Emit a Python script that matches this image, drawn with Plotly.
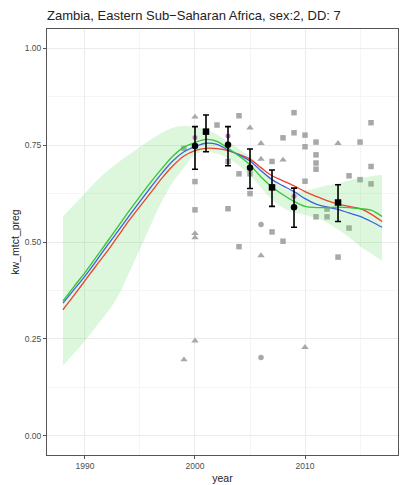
import plotly.graph_objects as go

# ---------------- data ----------------
years = list(range(1988, 2018))
red_line = [0.325, 0.362, 0.400, 0.438, 0.475, 0.515, 0.555, 0.592, 0.628, 0.665,
            0.697, 0.722, 0.736, 0.742, 0.741, 0.736, 0.726, 0.714, 0.692, 0.671,
            0.658, 0.645, 0.630, 0.618, 0.607, 0.598, 0.592, 0.586, 0.572, 0.553]
blue_line = [0.342, 0.377, 0.412, 0.450, 0.490, 0.528, 0.567, 0.605, 0.642, 0.678,
             0.710, 0.733, 0.746, 0.755, 0.752, 0.738, 0.725, 0.709, 0.684, 0.661,
             0.645, 0.630, 0.612, 0.598, 0.590, 0.584, 0.575, 0.566, 0.553, 0.538]
green_line = [0.348, 0.385, 0.421, 0.460, 0.500, 0.540, 0.580, 0.618, 0.655, 0.690,
              0.722, 0.745, 0.757, 0.765, 0.760, 0.742, 0.722, 0.699, 0.668, 0.642,
              0.622, 0.605, 0.592, 0.589, 0.589, 0.590, 0.589, 0.586, 0.582, 0.566]
band_upper = [0.566, 0.596, 0.626, 0.656, 0.683, 0.705, 0.725, 0.745, 0.765, 0.782,
              0.795, 0.800, 0.796, 0.790, 0.777, 0.760, 0.740, 0.720, 0.690, 0.662,
              0.640, 0.630, 0.633, 0.639, 0.646, 0.652, 0.659, 0.665, 0.670, 0.673]
band_lower = [0.181, 0.212, 0.245, 0.281, 0.317, 0.360, 0.420, 0.481, 0.545, 0.605,
              0.655, 0.692, 0.725, 0.733, 0.728, 0.717, 0.697, 0.673, 0.640, 0.609,
              0.588, 0.576, 0.570, 0.562, 0.550, 0.532, 0.512, 0.489, 0.470, 0.451]

sq_years = [2004, 2002, 1999, 2003, 2004, 2000, 2005, 2005, 2008, 2009, 2009, 2007,
            2000, 2003, 2007, 2004, 2008, 2010, 2010, 2011, 2011, 2011, 2011, 2010,
            2015, 2016, 2014, 2015, 2016, 2016, 2011, 2012, 2012, 2014, 2013]
sq_vals = [0.826, 0.802, 0.742, 0.708, 0.676, 0.656, 0.676, 0.625, 0.769, 0.834, 0.782, 0.708,
           0.583, 0.586, 0.526, 0.488, 0.502, 0.776, 0.746, 0.758, 0.725, 0.704, 0.688, 0.657,
           0.758, 0.808, 0.671, 0.661, 0.695, 0.650, 0.565, 0.565, 0.585, 0.536, 0.461]
tri_years = [2000, 2005, 2006, 2008, 2006, 2013, 2000, 2000, 2006, 2000, 1999, 2010]
tri_vals = [0.823, 0.795, 0.755, 0.712, 0.714, 0.755, 0.522, 0.511, 0.465, 0.245, 0.196, 0.228]
circ_years = [2006, 2006]
circ_vals = [0.545, 0.202]
purple_years = [2000, 2003, 2009]
purple_vals = [0.770, 0.774, 0.618]

pt_years = [2000, 2001, 2003, 2005, 2007, 2009, 2013]
pt_vals = [0.748, 0.785, 0.751, 0.692, 0.641, 0.590, 0.602]
pt_upper = [0.798, 0.828, 0.798, 0.740, 0.686, 0.639, 0.648]
pt_lower = [0.688, 0.733, 0.697, 0.638, 0.592, 0.538, 0.553]
pt_symbols = ["circle", "square", "circle", "circle", "square", "circle", "square"]

title_text = "Zambia, Eastern Sub\u2212Saharan Africa, sex:2, DD: 7"

# ---------------- figure ----------------
gray = "rgb(168,168,168)"
fig = go.Figure()

fig.add_trace(go.Scatter(x=sq_years, y=sq_vals, mode="markers",
                         marker=dict(symbol="square", size=5.5, color=gray), showlegend=False))
fig.add_trace(go.Scatter(x=tri_years, y=tri_vals, mode="markers",
                         marker=dict(symbol="triangle-up", size=6.5, color=gray), showlegend=False))
fig.add_trace(go.Scatter(x=circ_years, y=circ_vals, mode="markers",
                         marker=dict(symbol="circle", size=5.5, color=gray), showlegend=False))

# ribbon
fig.add_trace(go.Scatter(x=years, y=band_lower, mode="lines", line=dict(width=0, shape="spline"),
                         showlegend=False, hoverinfo="skip"))
fig.add_trace(go.Scatter(x=years, y=band_upper, mode="lines", line=dict(width=0, shape="spline"),
                         fill="tonexty", fillcolor="rgba(100,220,100,0.22)",
                         showlegend=False, hoverinfo="skip"))

fig.add_trace(go.Scatter(x=purple_years, y=purple_vals, mode="markers",
                         marker=dict(symbol="circle", size=5, color="rgb(190,120,190)"),
                         showlegend=False))

for vals, col in [(red_line, "#EE4033"), (blue_line, "#3D63E0"), (green_line, "#35C435")]:
    fig.add_trace(go.Scatter(x=years, y=vals, mode="lines",
                             line=dict(color=col, width=1.3, shape="spline"), showlegend=False))

fig.add_trace(go.Scatter(
    x=pt_years, y=pt_vals, mode="markers",
    marker=dict(symbol=pt_symbols, size=6.5, color="black"),
    error_y=dict(type="data", symmetric=False,
                 array=[u - v for u, v in zip(pt_upper, pt_vals)],
                 arrayminus=[v - l for v, l in zip(pt_vals, pt_lower)],
                 color="black", thickness=1.6, width=3),
    showlegend=False))

axis_common = dict(
    showline=True, linecolor="#555555", linewidth=1, mirror=True,
    showgrid=True, gridcolor="#EBEBEB", gridwidth=1, zeroline=False,
    ticks="outside", ticklen=3, tickcolor="#555555",
    tickfont=dict(family="Liberation Sans, Arial", size=8.5, color="#4D4D4D"),
)

fig.update_layout(
    width=400, height=485,
    margin=dict(l=47, r=2, t=29, b=30),
    paper_bgcolor="white", plot_bgcolor="white",
    title=dict(text=title_text, x=0, xref="paper", xanchor="left",
               y=1 - 15 / 485, yref="container", yanchor="middle",
               font=dict(family="Liberation Sans, Arial", size=13, color="#222222")),
    xaxis=dict(range=[1986.55, 2018.45], tickvals=[1990, 2000, 2010],
               minor=dict(showgrid=True, gridcolor="#F5F5F5", tickvals=[1995, 2005, 2015]),
               title=dict(text="year", standoff=4,
                          font=dict(family="Liberation Sans, Arial", size=10.5, color="#222222")),
               **axis_common),
    yaxis=dict(range=[-0.05, 1.05], tickvals=[0, 0.25, 0.5, 0.75, 1.0],
               ticktext=["0.00", "0.25", "0.50", "0.75", "1.00"],
               minor=dict(showgrid=True, gridcolor="#F5F5F5", tickvals=[0.125, 0.375, 0.625, 0.875]),
               title=dict(text="kw_mtct_preg", standoff=3,
                          font=dict(family="Liberation Sans, Arial", size=10.5, color="#222222")),
               **axis_common),
)

fig.write_html("out.html")
